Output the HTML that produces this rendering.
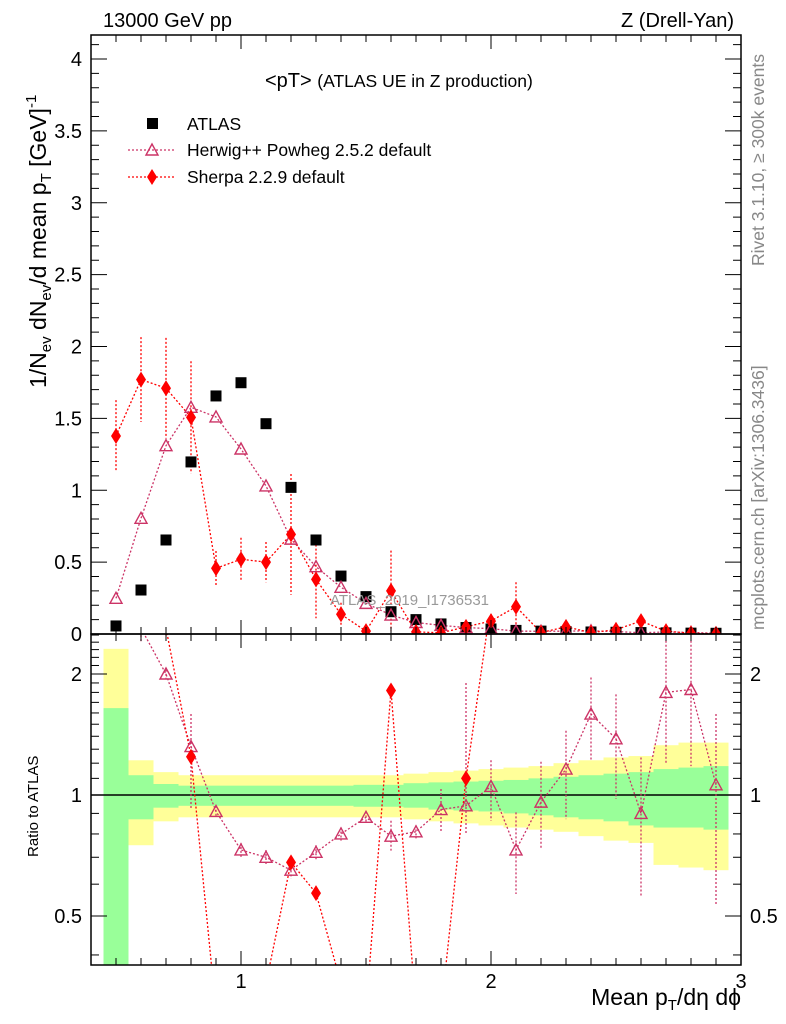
<!DOCTYPE html>
<html><head><meta charset="utf-8"><style>
body{margin:0;background:#fff;overflow:hidden;}
svg{display:block;font-family:"Liberation Sans",sans-serif;}
</style></head><body>
<svg id="c" width="786" height="1024" xmlns="http://www.w3.org/2000/svg"></svg>
<script>
const xs=[0.5,0.6,0.7,0.8,0.9,1.0,1.1,1.2,1.3,1.4,1.5,1.6,1.7,1.8,1.9,2.0,2.1,2.2,2.3,2.4,2.5,2.6,2.7,2.8,2.9];
const atlas=[0.056,0.306,0.654,1.197,1.656,1.748,1.463,1.02,0.654,0.403,0.26,0.155,0.10,0.07,0.045,0.035,0.025,0.02,0.017,0.014,0.012,0.01,0.008,0.006,0.005];
const herwig=[0.248,0.805,1.31,1.577,1.51,1.287,1.03,0.66,0.468,0.325,0.213,0.132,0.08,0.06,0.045,0.037,0.02,0.019,0.02,0.022,0.017,0.009,0.014,0.011,0.005];
const sherpa=[1.377,1.77,1.71,1.507,0.457,0.52,0.50,0.693,0.38,0.137,0.02,0.30,0.015,0.008,0.05,0.09,0.19,0.01,0.05,0.01,0.03,0.09,0.02,0.005,0.002];
const sherpaErr=[0.25,0.295,0.35,0.39,0.12,0.15,0.14,0.42,0.27,0.08,0.02,0.28,0.01,0.01,0.03,0.05,0.17,0.01,0.03,0.01,0.02,0.04,0.01,0.005,0.002];
const herwigR=[4.4,2.6,2.0,1.32,0.91,0.73,0.70,0.65,0.72,0.80,0.88,0.79,0.81,0.92,0.94,1.05,0.73,0.96,1.16,1.59,1.38,0.90,1.80,1.83,1.06];
const herwigRUp=[4.6,2.8,2.05,1.59,0.94,0.76,0.73,0.68,0.75,0.83,0.91,0.863,0.84,1.035,1.90,1.22,0.905,1.21,1.445,1.96,1.78,1.24,2.42,2.42,1.59];
const herwigRDn=[4.2,2.4,1.95,0.92,0.88,0.70,0.67,0.62,0.69,0.77,0.85,0.727,0.78,0.808,0.80,0.863,0.567,0.734,0.871,1.22,0.977,0.557,1.19,1.18,0.53];
const sherpaR=[19,5.5,2.6,1.245,0.29,0.30,0.34,0.68,0.57,0.34,0.29,1.82,0.29,0.29,1.10,3.0,7.0,3.5,3.0,4.0,3.5,9,3.0,3.0,3.0];
const bandYUp=[2.31,1.22,1.14,1.12,1.12,1.12,1.12,1.12,1.12,1.12,1.12,1.12,1.13,1.14,1.15,1.16,1.17,1.18,1.2,1.22,1.24,1.25,1.33,1.35,1.35];
const bandYDn=[0.30,0.75,0.86,0.88,0.88,0.88,0.88,0.88,0.88,0.88,0.88,0.88,0.87,0.86,0.85,0.84,0.83,0.82,0.81,0.79,0.77,0.76,0.67,0.66,0.65];
const bandGUp=[1.645,1.12,1.065,1.055,1.055,1.055,1.055,1.055,1.055,1.055,1.06,1.06,1.07,1.075,1.08,1.085,1.09,1.1,1.11,1.12,1.13,1.14,1.16,1.17,1.18];
const bandGDn=[0.30,0.87,0.93,0.94,0.94,0.94,0.94,0.94,0.94,0.94,0.935,0.935,0.93,0.92,0.915,0.91,0.90,0.89,0.88,0.87,0.86,0.84,0.83,0.83,0.82];
const mainTicks=[0,0.5,1,1.5,2,2.5,3,3.5,4];
const mainTickLabels=["0","0.5","1","1.5","2","2.5","3","3.5","4"];
const ratioTicks=[0.5,1,2];
const ratioTickLabels=["0.5","1","2"];
const xTicks=[1,2,3];
const xTickLabels=["1","2","3"];

const L=91,R=741,T=35,MB=634,RB=965;
const X=v=>L+(v-0.4)*250;
const Y=v=>MB-v*143.75;
const YR=v=>795-121*Math.log2(v);
const NS="http://www.w3.org/2000/svg";
const svg=document.getElementById('c');
function mk(tag,attrs,parent){const e=document.createElementNS(NS,tag);for(const k in attrs)e.setAttribute(k,attrs[k]);(parent||svg).appendChild(e);return e;}
const defs=mk('defs',{});
const cp1=mk('clipPath',{id:'cm'},defs);mk('rect',{x:L,y:T,width:R-L,height:MB-T},cp1);
const cp2=mk('clipPath',{id:'cr'},defs);mk('rect',{x:L,y:MB,width:R-L,height:RB-MB},cp2);
const gM=mk('g',{'clip-path':'url(#cm)'});


const gR=mk('g',{'clip-path':'url(#cr)'});



xs.forEach((x,i)=>{
  let r=mk('rect',{x:X(x-0.05),y:YR(bandYUp[i]),width:25,height:YR(bandYDn[i])-YR(bandYUp[i]),fill:'#ffff99'},gR);
  
  
  let g=mk('rect',{x:X(x-0.05),y:YR(bandGUp[i]),width:25,height:YR(bandGDn[i])-YR(bandGUp[i]),fill:'#99ff99'},gR);
  
  
});
let ln=mk('line',{x1:L,x2:R,y1:YR(1),y2:YR(1),stroke:'#000','stroke-width':1.5},gR);



const HC='#cc3366',SC='#ff0000';
function poly(pts,color,g,name){const p=mk('polyline',{points:pts.map(p=>p.join(',')).join(' '),fill:'none',stroke:color,'stroke-width':1.3,'stroke-dasharray':'2,2'},g);

}
function tri(x,y,g,name){const p=mk('polygon',{points:`${x},${y-6} ${x-6},${y+5} ${x+6},${y+5}`,fill:'none',stroke:HC,'stroke-width':1.4},g);

}
function dia(x,y,g,name){const p=mk('polygon',{points:`${x},${y-8} ${x+5},${y} ${x},${y+8} ${x-5},${y}`,fill:SC},g);

}
function err(x,y1,y2,color,g){const e=mk('line',{x1:x,x2:x,y1:y1,y2:y2,stroke:color,'stroke-width':1.3,'stroke-dasharray':'2,2'},g);

}

poly(xs.map((x,i)=>[X(x),Y(herwig[i])]),HC,gM,'herwig-line');
poly(xs.map((x,i)=>[X(x),Y(sherpa[i])]),SC,gM,'sherpa-line');
xs.forEach((x,i)=>{err(X(x),Y(sherpa[i]+sherpaErr[i]),Y(Math.max(0,sherpa[i]-sherpaErr[i])),SC,gM);});
xs.forEach((x,i)=>{
  const s=mk('rect',{x:X(x)-5.5,y:Y(atlas[i])-5.5,width:11,height:11,fill:'#000'},gM);
  
  
});
xs.forEach((x,i)=>tri(X(x),Y(herwig[i]),gM,'herwig-point'));
xs.forEach((x,i)=>dia(X(x),Y(sherpa[i]),gM,'sherpa-point'));

poly(xs.map((x,i)=>[X(x),YR(herwigR[i])]),HC,gR,'herwig-ratio-line');
poly(xs.map((x,i)=>[X(x),YR(sherpaR[i])]),SC,gR,'sherpa-ratio-line');
xs.forEach((x,i)=>err(X(x),YR(herwigRUp[i]),YR(herwigRDn[i]),HC,gR));
xs.forEach((x,i)=>tri(X(x),YR(herwigR[i]),gR,'herwig-ratio-point'));
xs.forEach((x,i)=>dia(X(x),YR(sherpaR[i]),gR,'sherpa-ratio-point'));

[[T,MB],[MB,RB]].forEach(([a,b],k)=>{const f=mk('rect',{x:L,y:a,width:R-L,height:b-a,fill:'none',stroke:'#000','stroke-width':1.5});

});

function txt(s,attrs,name){const t=mk('text',attrs);t.textContent=s;

return t;}

for(let v=0.5;v<=2.95;v+=0.1){const x=X(v);const major=Math.abs(v-Math.round(v))<0.01;const h=major?14:7;
  [[MB,-1],[RB,-1],[T,1],[MB,1]].forEach(([y0,d])=>mk('line',{x1:x,x2:x,y1:y0,y2:y0+d*h,stroke:'#000','stroke-width':1}));}
xTicks.forEach((v,i)=>txt(xTickLabels[i],{x:X(v),y:988,'font-size':20,'text-anchor':'middle'},'x-tick-label'));
for(let v=0;v<=4.15;v+=0.1){const y=Y(v);const major=Math.abs(v*2-Math.round(v*2))<0.01;const h=major?16:8;
  mk('line',{x1:L,x2:L+h,y1:y,y2:y,stroke:'#000'});mk('line',{x1:R,x2:R-h,y1:y,y2:y,stroke:'#000'});}
mainTicks.forEach((v,i)=>txt(mainTickLabels[i],{x:82,y:Y(v)+7,'font-size':20,'text-anchor':'end'},'y-tick-label'));
[0.4,0.5,0.6,0.7,0.8,0.9,1,1.1,1.2,1.3,1.4,1.5,1.6,1.7,1.8,1.9,2,2.1,2.2,2.3,2.4,2.5].forEach(v=>{const y=YR(v);if(y<MB||y>RB)return;const major=ratioTicks.includes(v);const h=major?16:8;
  mk('line',{x1:L,x2:L+h,y1:y,y2:y,stroke:'#000'});mk('line',{x1:R,x2:R-h,y1:y,y2:y,stroke:'#000'});});
ratioTicks.forEach((v,i)=>{txt(ratioTickLabels[i],{x:82,y:YR(v)+7,'font-size':20,'text-anchor':'end'},'ratio-tick-label-left');
  txt(ratioTickLabels[i],{x:750,y:YR(v)+7,'font-size':20},'ratio-tick-label-right');});

txt('13000 GeV pp',{x:103,y:27,'font-size':20},'energy-label');
txt('Z (Drell-Yan)',{x:734,y:27,'font-size':20,'text-anchor':'end'},'process-label');
const tt=mk('text',{x:265,y:87,'font-size':20});


tt.innerHTML='&lt;pT&gt; <tspan font-size="17.5">(ATLAS UE in Z production)</tspan>';
txt('ATLAS_2019_I1736531',{x:330,y:605,'font-size':15,fill:'#999'},'analysis-watermark');
const yt=mk('text',{transform:'translate(46,388) rotate(-90)','font-size':23});


yt.innerHTML='1/N<tspan font-size="15" dy="5">ev</tspan><tspan dy="-5"> dN</tspan><tspan font-size="15" dy="5">ev</tspan><tspan dy="-5">/d mean p</tspan><tspan font-size="15" dy="5">T</tspan><tspan dy="-5"> [GeV]</tspan><tspan font-size="15" dy="-10">-1</tspan>';
txt('Ratio to ATLAS',{transform:'translate(38,857) rotate(-90)','font-size':15},'ratio-axis-title');
const xt=mk('text',{x:741,y:1005,'font-size':23,'text-anchor':'end'});


xt.innerHTML='Mean p<tspan font-size="15" dy="5">T</tspan><tspan dy="-5">/dη dϕ</tspan>';
txt('Rivet 3.1.10, ≥ 300k events',{transform:'translate(764,266) rotate(-90)','font-size':17.5,fill:'#888'},'rivet-label');
txt('mcplots.cern.ch [arXiv:1306.3436]',{transform:'translate(764,630) rotate(-90)','font-size':17.5,fill:'#888'},'mcplots-label');

const lg=mk('g',{});


const ls=mk('rect',{x:147,y:118,width:11,height:11,fill:'#000'},lg);


txt('ATLAS',{x:187,y:130,'font-size':17.5},'legend-atlas');
mk('line',{x1:128,x2:176,y1:150,y2:150,stroke:HC,'stroke-dasharray':'2,2','stroke-width':1.3},lg);
tri(152,150,lg,'legend-herwig-marker');
txt('Herwig++ Powheg 2.5.2 default',{x:187,y:156,'font-size':17.5},'legend-herwig');
mk('line',{x1:128,x2:176,y1:177,y2:177,stroke:SC,'stroke-dasharray':'2,2','stroke-width':1.3},lg);
dia(152,177,lg,'legend-sherpa-marker');
txt('Sherpa 2.2.9 default',{x:187,y:183,'font-size':17.5},'legend-sherpa');
</script>
</body></html>
